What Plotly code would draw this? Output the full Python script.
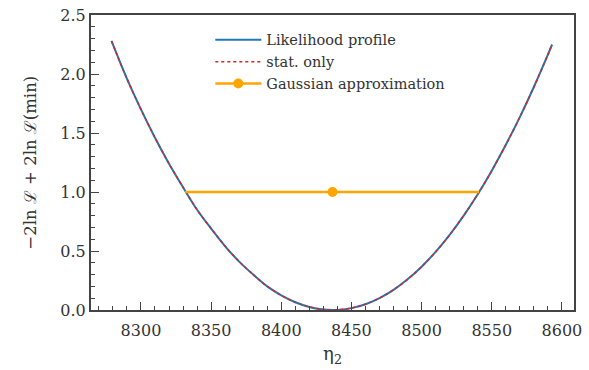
import plotly.graph_objects as go

# Profile likelihood scan of eta_2: -2 ln L + 2 ln L(min)
eta2 = [8279, 8290, 8300, 8310, 8320, 8330, 8340, 8350, 8360, 8370, 8380,
        8390, 8400, 8410, 8420, 8430, 8437, 8440, 8450, 8460, 8470, 8480,
        8490, 8500, 8510, 8520, 8530, 8540, 8550, 8560, 8570, 8580, 8590, 8593]
nll_profile = [2.28, 1.96, 1.70, 1.46, 1.24, 1.04, 0.85, 0.69, 0.54, 0.41, 0.30,
               0.20, 0.124, 0.066, 0.026, 0.004, 0.0, 0.001, 0.016, 0.049, 0.101, 0.171,
               0.26, 0.367, 0.493, 0.637, 0.80, 0.981, 1.181, 1.40, 1.635, 1.89, 2.164, 2.25]
nll_stat = [2.28, 1.96, 1.70, 1.46, 1.24, 1.04, 0.85, 0.69, 0.54, 0.41, 0.30,
            0.20, 0.124, 0.066, 0.026, 0.004, 0.0, 0.001, 0.016, 0.049, 0.101, 0.171,
            0.26, 0.367, 0.493, 0.637, 0.80, 0.981, 1.181, 1.40, 1.635, 1.89, 2.164, 2.25]

# Gaussian approximation: best fit with asymmetric 1-sigma interval
gauss_center = 8436.5
gauss_minus = 105.0
gauss_plus = 104.5
gauss_level = 1.0

y_title = "−2ln ℒ + 2ln ℒ(min)"

FONT = "DejaVu Serif"
AXIS_COLOR = "#444444"
TEXT_COLOR = "#333333"

fig = go.Figure()

fig.add_trace(go.Scatter(
    x=eta2, y=nll_profile, mode="lines", name="Likelihood profile",
    line=dict(color="#1f77b4", width=2, shape="spline"),
))
fig.add_trace(go.Scatter(
    x=eta2, y=nll_stat, mode="lines", name="stat. only",
    line=dict(color="#d62728", width=1.5, dash="dot", shape="spline"),
))
fig.add_trace(go.Scatter(
    x=[gauss_center - gauss_minus, gauss_center + gauss_plus],
    y=[gauss_level, gauss_level], mode="lines", showlegend=False,
    line=dict(color="#FFA500", width=2.5), hoverinfo="skip",
))
fig.add_trace(go.Scatter(
    x=[gauss_center], y=[gauss_level], mode="lines+markers",
    name="Gaussian approximation",
    line=dict(color="#FFA500", width=2.5),
    marker=dict(color="#FFA500", size=10),
))

fig.update_layout(
    width=589, height=370,
    margin=dict(l=91, r=15, t=15, b=60),
    paper_bgcolor="white", plot_bgcolor="white",
    font=dict(family=FONT, size=16, color=TEXT_COLOR),
    showlegend=True,
    legend=dict(
        x=0.247, y=0.97, xanchor="left", yanchor="top",
        bgcolor="rgba(255,255,255,0)", borderwidth=0,
        font=dict(family=FONT, size=14.5, color=TEXT_COLOR),
        tracegroupgap=0, itemwidth=46,
    ),
    annotations=[dict(
        text=y_title, textangle=-90, showarrow=False,
        xref="paper", yref="paper", x=-0.126, y=0.5,
        xanchor="center", yanchor="middle",
        font=dict(family=FONT, size=16.5, color=TEXT_COLOR),
    )],
)

fig.update_xaxes(
    range=[8264.4, 8608.6], tickvals=[8300, 8350, 8400, 8450, 8500, 8550, 8600],
    ticks="inside", ticklen=8, tickwidth=1.2, tickcolor=AXIS_COLOR,
    minor=dict(ticks="inside", dtick=10, ticklen=4, tickwidth=1, tickcolor=AXIS_COLOR),
    showline=True, linecolor=AXIS_COLOR, linewidth=2, mirror=True,
    showgrid=False, zeroline=False, ticklabelstandoff=5, automargin=False,
    tickfont=dict(family=FONT, size=16, color=TEXT_COLOR),
    title=dict(text="η<sub>2</sub>", font=dict(family=FONT, size=18, color=TEXT_COLOR),
               standoff=8),
)
fig.update_yaxes(
    range=[0, 2.5], tickvals=[0, 0.5, 1.0, 1.5, 2.0, 2.5],
    ticktext=["0.0", "0.5", "1.0", "1.5", "2.0", "2.5"],
    ticks="inside", ticklen=8, tickwidth=1.2, tickcolor=AXIS_COLOR,
    minor=dict(ticks="inside", dtick=0.1, ticklen=4, tickwidth=1, tickcolor=AXIS_COLOR),
    showline=True, linecolor=AXIS_COLOR, linewidth=2, mirror=True,
    showgrid=False, zeroline=False, automargin=False,
    tickfont=dict(family=FONT, size=16, color=TEXT_COLOR),
)

fig.write_html("out.html")
